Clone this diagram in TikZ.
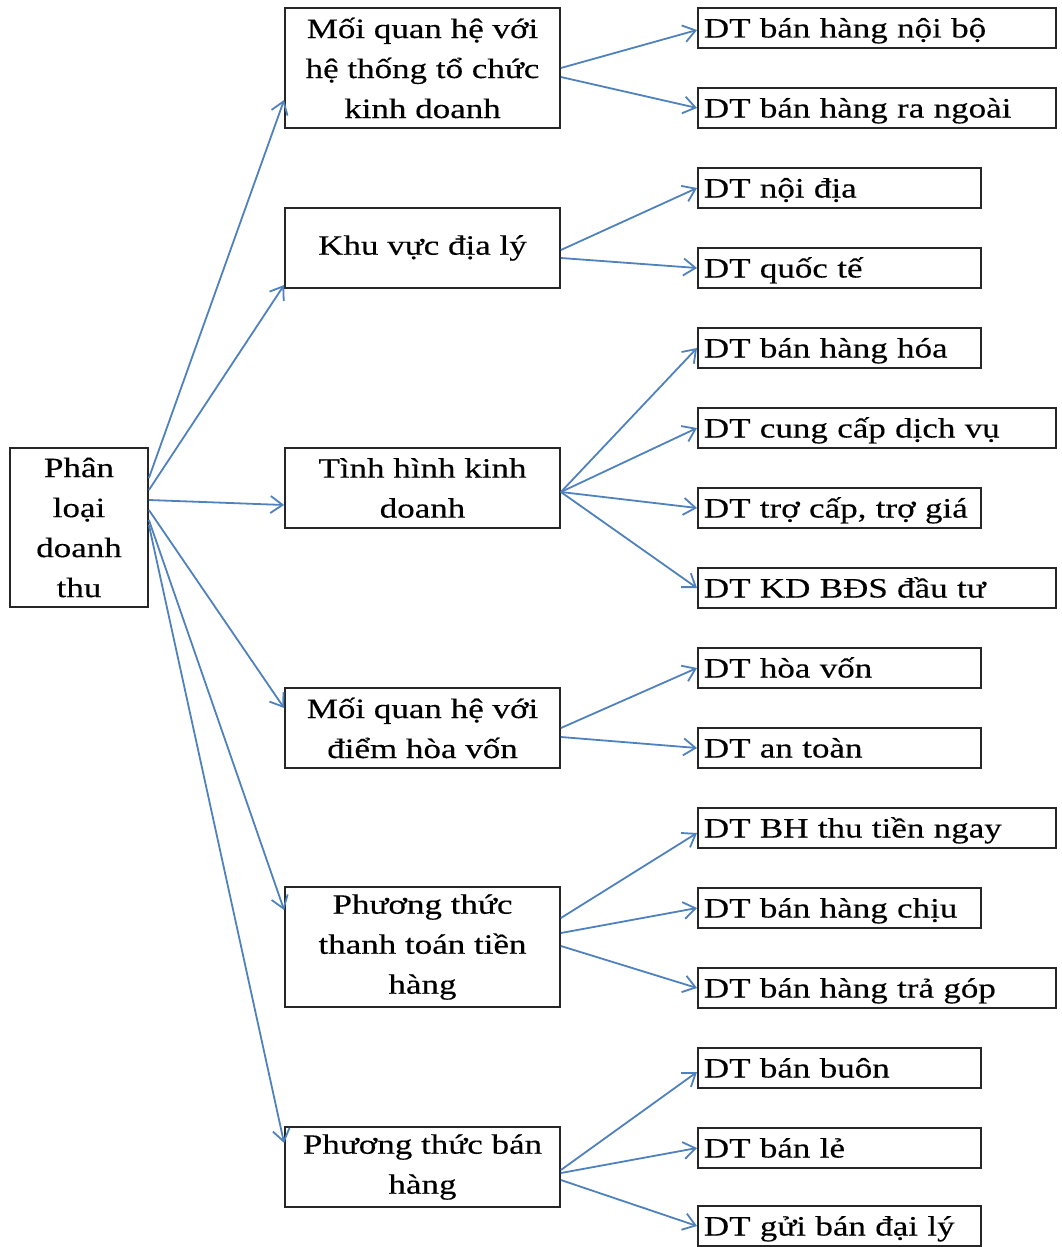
\documentclass[tikz,border=0pt]{standalone}
\usepackage{fontspec}
\setmainfont{Liberation Serif}[FakeStretch=1.25,FakeBold=0.3]
\usetikzlibrary{arrows.meta}
\definecolor{linkblue}{HTML}{4F81BD}
\begin{document}
\begin{tikzpicture}[x=1pt,y=-1pt,
  box/.style={draw=black!85, line width=1.8pt, inner sep=0pt,
    font=\fontsize{28}{40}\selectfont},
  rootbox/.style={box, minimum width=138pt, minimum height=159pt, align=center},
  midbox/.style={box, minimum width=275pt, align=center},
  leaf/.style={box, anchor=west, minimum height=40pt, inner xsep=6pt,
    text height=25pt, text depth=6pt, align=left},
  leafwide/.style={leaf, text width=346pt},
  leafshort/.style={leaf, text width=271pt},
  conn/.style={draw=linkblue, line width=1.8pt,
    -{Straight Barb[length=12pt,width=17pt]}}
]
\useasboundingbox (0,0) rectangle (1062,1247);

% root
\node[rootbox] (L) at (79,527.5) {Phân\\loại\\doanh\\thu};

% criteria
\node[midbox, minimum height=120pt] (M1) at (422.5,68) {Mối quan hệ với\\hệ thống tổ chức\\kinh doanh};
\node[midbox, minimum height=80pt] (M2) at (422.5,248) {Khu vực địa lý};
\node[midbox, minimum height=80pt] (M3) at (422.5,488) {Tình hình kinh\\doanh};
\node[midbox, minimum height=80pt] (M4) at (422.5,728) {Mối quan hệ với\\điểm hòa vốn};
\node[midbox, minimum height=120pt] (M5) at (422.5,947) {Phương thức\\thanh toán tiền\\hàng};
\node[midbox, minimum height=80pt] (M6) at (422.5,1167) {Phương thức bán\\hàng};

% revenue types
\node[leafwide]  (R1)  at (697,28)   {DT bán hàng nội bộ};
\node[leafwide]  (R2)  at (697,108)  {DT bán hàng ra ngoài};
\node[leafshort] (R3)  at (697,188)  {DT nội địa};
\node[leafshort] (R4)  at (697,268)  {DT quốc tế};
\node[leafshort] (R5)  at (697,348)  {DT bán hàng hóa};
\node[leafwide]  (R6)  at (697,428)  {DT cung cấp dịch vụ};
\node[leafshort] (R7)  at (697,508)  {DT trợ cấp, trợ giá};
\node[leafwide]  (R8)  at (697,588)  {DT KD BĐS đầu tư};
\node[leafshort] (R9)  at (697,668)  {DT hòa vốn};
\node[leafshort] (R10) at (697,748)  {DT an toàn};
\node[leafwide]  (R11) at (697,828)  {DT BH thu tiền ngay};
\node[leafshort] (R12) at (697,908)  {DT bán hàng chịu};
\node[leafwide]  (R13) at (697,988)  {DT bán hàng trả góp};
\node[leafshort] (R14) at (697,1068) {DT bán buôn};
\node[leafshort] (R15) at (697,1148) {DT bán lẻ};
\node[leafshort] (R16) at (697,1226) {DT gửi bán đại lý};

% root to criteria
\draw[conn] ([yshift=49.5pt]L.east) -- ([yshift=-32pt]M1.west);
\draw[conn] ([yshift=37.5pt]L.east) -- ([yshift=-37pt]M2.west);
\draw[conn] ([yshift=27.5pt]L.east) -- ([yshift=-17pt]M3.west);
\draw[conn] ([yshift=17.5pt]L.east) -- ([yshift=20pt]M4.west);
\draw[conn] ([yshift=7.5pt]L.east)  -- ([yshift=37pt]M5.west);
\draw[conn] ([yshift=2.5pt]L.east)  -- ([yshift=24pt]M6.west);

% criteria to revenue types
\draw[conn] (M1.east) -- ([yshift=-2pt]R1.west);
\draw[conn] ([yshift=-9pt]M1.east) -- (R2.west);
\draw[conn] ([yshift=-2pt]M2.east) -- (R3.west);
\draw[conn] ([yshift=-10pt]M2.east) -- (R4.west);
\draw[conn] ([yshift=-4pt]M3.east) -- (R5.west);
\draw[conn] ([yshift=-4pt]M3.east) -- (R6.west);
\draw[conn] ([yshift=-4pt]M3.east) -- (R7.west);
\draw[conn] ([yshift=-4pt]M3.east) -- (R8.west);
\draw[conn] (M4.east) -- (R9.west);
\draw[conn] ([yshift=-9pt]M4.east) -- (R10.west);
\draw[conn] ([yshift=29pt]M5.east) -- ([yshift=-5pt]R11.west);
\draw[conn] ([yshift=14pt]M5.east) -- (R12.west);
\draw[conn] ([yshift=1pt]M5.east) -- (R13.west);
\draw[conn] ([yshift=-3pt]M6.east) -- ([yshift=-4pt]R14.west);
\draw[conn] ([yshift=-6pt]M6.east) -- (R15.west);
\draw[conn] ([yshift=-13pt]M6.east) -- (R16.west);
\end{tikzpicture}
\end{document}
